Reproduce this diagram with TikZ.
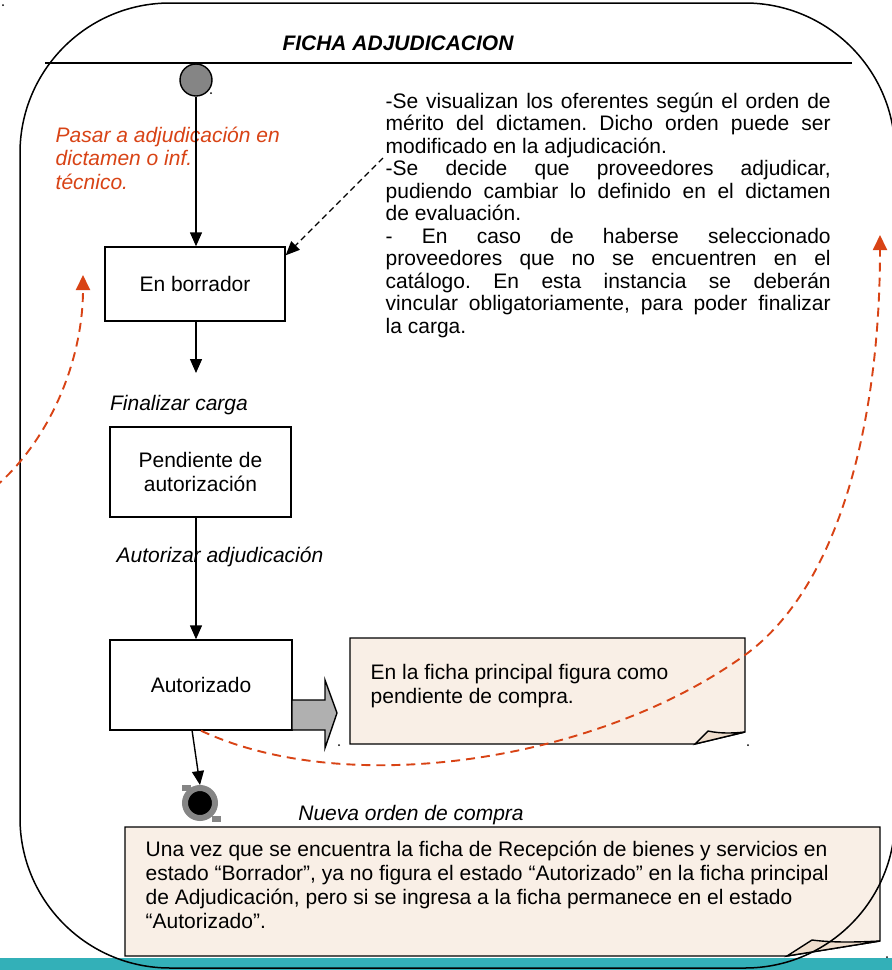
\documentclass[tikz,border=0pt]{standalone}
\usepackage{fontspec}
\setmainfont{Liberation Sans}
\usetikzlibrary{arrows.meta,positioning,calc}
\definecolor{notaColor}{HTML}{F9EFE6}
\definecolor{plieColor}{HTML}{EFDDCC}
\definecolor{flujoColor}{HTML}{D84315}
\definecolor{barraColor}{HTML}{33B0B8}
\definecolor{grisColor}{HTML}{858585}
\definecolor{bloqueColor}{HTML}{B0B0B0}
\newcommand{\fs}{\fontsize{21pt}{24pt}\selectfont}
\frenchspacing
\tikzset{
	estado/.style={draw, line width=1.4pt, align=center, inner sep=0pt, font=\fs},
	etiq/.style={font=\fs\itshape, inner sep=0pt},
	nota/.style={fill=notaColor, draw, line width=1.4pt},
	flecha/.style={-{Triangle[length=14pt,width=12pt]}},
	flujo/.style={color=flujoColor, dash pattern=on 9pt off 6pt, line width=1.9pt,
		-{Triangle[length=15pt,width=14pt]}}
}

\begin{document}
\begin{tikzpicture}[x=1pt, y=-1pt, line width=1.4pt]
	\useasboundingbox (0,0) rectangle (892,970);
	\clip (0,0) rectangle (892,970);
	
	\fill[barraColor] (0,958) rectangle (892,970);
	% notas
	\filldraw[nota] (125,827) -- (880,827) -- (880,941) -- (787,956) -- (125,956) -- cycle;
	\filldraw[nota, fill=plieColor] (787,956) -- (812,940) .. controls (835,943) and (860,942) .. (880,941) -- cycle;
	\filldraw[nota] (350,638) -- (745,638) -- (745,732) -- (695,744) -- (350,744) -- cycle;
	\filldraw[nota, fill=plieColor] (695,744) -- (708,731) .. controls (722,734) and (735,733) .. (745,732) -- cycle;
	
	\draw[line width=1.5pt, rounded corners=150pt] (20,3) rectangle (895,968);
	\draw[line width=1.5pt] (45,63) -- (852,63);
	\node[font=\fs\bfseries\itshape] (titulo) at (398,43) {FICHA ADJUDICACION};
	
	\node[draw, circle, fill=grisColor, minimum size=32pt, inner sep=0pt] (ini) at (196,80) {};
	\node[estado, minimum width=180pt, minimum height=74pt] (borr) at (195,284) {En borrador};
	\node[estado, minimum width=181pt, minimum height=90pt] (pend) at (200.5,472) {Pendiente de\\autorización};
	\node[estado, minimum width=182pt, minimum height=90pt] (aut) at (201,685) {Autorizado};
	\node[circle, fill=black, draw=grisColor, line width=6pt, minimum size=30pt, inner sep=0pt] (fin) at (200,803) {};
	\fill[grisColor] (182,785) rectangle (191,791);
	\fill[grisColor] (212,816) rectangle (221,822);
	
	\node[font=\fontsize{21pt}{23.5pt}\selectfont\itshape, text=flujoColor, align=left, anchor=west, inner sep=0pt] (pasar) at (55,158) {Pasar a adjudicación en\\dictamen o inf.\\técnico.};
	\node[etiq] (finaliz) at (179,405) {Finalizar carga};
	\node[etiq] (autoriz) at (220,557) {Autorizar adjudicación};
	\node[etiq] (nueva) at (411,815) {Nueva orden de compra};
	
	\node[font=\fontsize{21pt}{22.5pt}\selectfont, text width=445pt, align=justify, inner sep=0pt, anchor=north west] (texto) at (385,92) {-Se visualizan los oferentes según el orden de\linebreak
		mérito del dictamen. Dicho orden puede ser\linebreak
		modificado en la adjudicación.\\
		-Se decide que proveedores adjudicar,\linebreak
		pudiendo cambiar lo definido en el dictamen\linebreak
		de evaluación.\\
		- En caso de haberse seleccionado\linebreak
		proveedores que no se encuentren en el\linebreak
		catálogo. En esta instancia se deberán\linebreak
		vincular obligatoriamente, para poder finalizar\linebreak
		la carga.};
	\node[font=\fs, align=left, anchor=west, inner sep=0pt] (txt1) at (370,686) {En la ficha principal figura como\\pendiente de compra.};
	\node[font=\fs, align=left, anchor=west, inner sep=0pt] (txt2) at (145,885) {Una vez que se encuentra la ficha de Recepción de bienes y servicios en\\estado “Borrador”, ya no figura el estado “Autorizado” en la ficha principal\\de Adjudicación, pero si se ingresa a la ficha permanece en el estado\\“Autorizado”.};
	
	\filldraw[fill=bloqueColor] (292,700) -- (325,700) -- (325,680) -- (337,713) -- (325,748) -- (325,730) -- (292,730) -- cycle;
	
	\coordinate (finc) at (196,373);
	\coordinate (autb) at (192,730);
	\coordinate (par) at (383,158);
	\draw[flecha] (ini.south) -- (ini.south |- borr.north);
	\draw[flecha] (borr.south -| ini) -- (finc);
	\draw[flecha] (pend.south -| ini) -- (aut.north -| ini);
	\draw[flecha] (autb) -- (fin.north);
	\draw[flecha, dash pattern=on 6pt off 4pt] (par) -- ([yshift=-9pt]borr.north east);
	
	\coordinate (izq) at (-5,487);
	\coordinate (izqf) at (83,275);
	\coordinate (der) at (880,235);
	\draw[flujo] (izq) .. controls (50,440) and (83,360) .. (izqf);
	\draw[flujo] (aut.south) .. controls (350,800) and (600,760) .. (745,655) .. controls (840,586) and (880,420) .. (der);
	
	\foreach \p in {(3,5),(211,93),(339,745),(748,745),(887,957)}
		\fill \p circle (1pt);
\end{tikzpicture}
\end{document}
